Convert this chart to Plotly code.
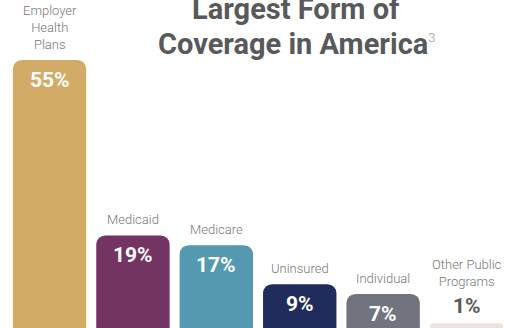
import plotly.graph_objects as go

categories = ["Employer<br>Health<br>Plans", "Medicaid", "Medicare", "Uninsured", "Individual", "Other Public<br>Programs"]
values = [55, 19, 17, 9, 7, 1]
pct_labels = ["55%", "19%", "17%", "9%", "7%", "1%"]
colors = ["#D2AB67", "#733464", "#5499B0", "#1F2C5C", "#71737F", "#EAE4DF"]
title_line1 = "Largest Form of"
title_line2 = "Coverage in America"
footnote = "3"

xs = list(range(len(values)))

fig = go.Figure()
fig.add_trace(go.Bar(
    x=xs, y=values,
    marker=dict(color=colors, cornerradius=9, line=dict(width=0)),
    width=0.88,
    hoverinfo="skip",
))

annotations = []
for i, (v, cat, pl) in enumerate(zip(values, categories, pct_labels)):
    inside = v >= 5
    annotations.append(dict(
        x=i, y=v, xref="x", yref="y", text=pl, showarrow=False,
        yanchor="middle", yshift=-20 if inside else 17,
        font=dict(family="Roboto", size=21, color="#FFFFFF" if inside else "#5A5A5A", weight="bold"),
    ))
    annotations.append(dict(
        x=i, y=v, xref="x", yref="y", text=cat, showarrow=False,
        yanchor="bottom", yshift=6 if inside else 32,
        font=dict(family="Roboto", size=13, color="#777777", weight=300),
    ))

annotations.append(dict(
    x=296 / 512, y=1, xref="paper", yref="paper", text=title_line1, showarrow=False,
    xanchor="center", yanchor="middle", yshift=-9,
    font=dict(family="Roboto", size=29, color="#58595B", weight="bold"),
))
annotations.append(dict(
    x=296 / 512, y=1, xref="paper", yref="paper",
    text=title_line2 + "<sup><span style='font-size:13px;font-weight:300;color:#9A9A9A'>" + footnote + "</span></sup>",
    showarrow=False,
    xanchor="center", yanchor="middle", yshift=-44,
    font=dict(family="Roboto", size=29, color="#58595B", weight="bold"),
))

fig.update_layout(
    width=512, height=328,
    margin=dict(l=0, r=0, t=0, b=0),
    paper_bgcolor="white", plot_bgcolor="white",
    showlegend=False,
    xaxis=dict(range=[-0.594, 5.545], visible=False, fixedrange=True),
    yaxis=dict(range=[0, 67.3], visible=False, fixedrange=True),
    annotations=annotations,
)

fig.write_html("out.html")
